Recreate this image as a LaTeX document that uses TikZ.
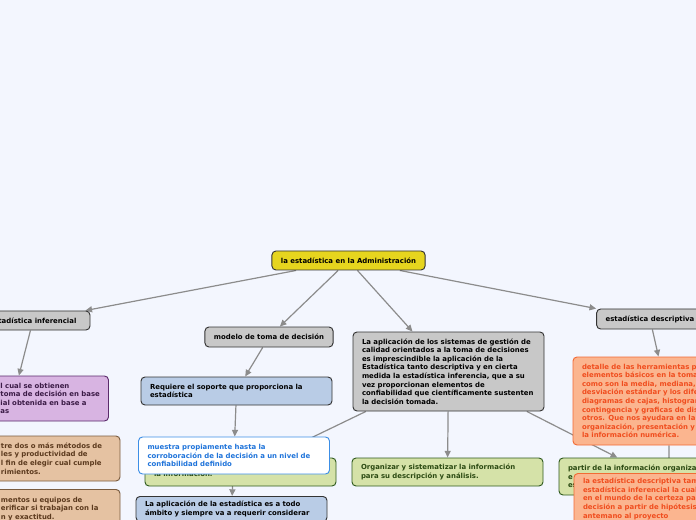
\documentclass[tikz,border=0pt]{standalone}
\usepackage{fontspec}
\setsansfont{DejaVu Sans}
\usetikzlibrary{arrows.meta}

\definecolor{paper}{HTML}{F3F6FE}
\definecolor{boxline}{HTML}{333333}
\definecolor{linkgray}{HTML}{8C8C8C}
\definecolor{rootfill}{HTML}{E6D51E}
\definecolor{grayfill}{HTML}{C8C8C8}
\definecolor{bluefill}{HTML}{B9CCE6}
\definecolor{greenfill}{HTML}{D5E2A8}
\definecolor{greenline}{HTML}{2F5A1E}
\definecolor{greentext}{HTML}{2B4A12}
\definecolor{purplefill}{HTML}{D8B4E2}
\definecolor{purpleline}{HTML}{5B2B6B}
\definecolor{purpletext}{HTML}{3B1B46}
\definecolor{tanfill}{HTML}{E5C2A2}
\definecolor{tanline}{HTML}{7A5C40}
\definecolor{tantext}{HTML}{5C3A1E}
\definecolor{orangefill}{HTML}{FBB58F}
\definecolor{orangeline}{HTML}{F26B35}
\definecolor{orangetext}{HTML}{F04D1E}
\definecolor{whiteline}{HTML}{3C8EE6}
\definecolor{whitetext}{HTML}{1E73DA}

\pgfdeclarelayer{paperlayer}
\pgfdeclarelayer{linklayer}
\pgfsetlayers{paperlayer,linklayer,main}

\begin{document}
\begin{tikzpicture}[
  x=0.75pt, y=-0.75pt,
  font=\sffamily\bfseries\fontsize{5.2}{6.45}\selectfont,
  box/.style={
    draw=boxline,
    fill=#1,
    rounded corners=3pt,
    line width=0.7pt,
    inner xsep=6.75pt,
    inner ysep=3.5pt
  },
  note/.style={
    box=#1,
    text width=129.75pt,
    align=left
  },
  link/.style={-{Triangle[length=5pt,width=4.5pt]}, line width=0.9pt, draw=linkgray}
]

\useasboundingbox (0,0) rectangle (696,520);
\begin{pgfonlayer}{paperlayer}
\fill[paper] (0,0) rectangle (696,520);
\end{pgfonlayer}

\node[box=rootfill, minimum width=113.25pt, minimum height=14.25pt] (root) at (348.5,260.5) {la estadística en la Administración};

\node[box=grayfill, minimum width=85.5pt, minimum height=14.25pt] (inferencial) at (33,320.5) {estadística inferencial};
\node[box=grayfill, minimum width=94.5pt, minimum height=15pt] (modelo) at (269,337) {modelo de toma de decisión};
\node[note=grayfill, minimum height=59.25pt] (sistemas) at (448.5,371.5) {La aplicación de los sistemas de gestión de\\calidad orientados a la toma de decisiones\\es imprescindible la aplicación de la\\Estadística tanto descriptiva y en cierta\\medida la estadística inferencia, que a su\\vez proporcionan elementos de\\confiabilidad que científicamente sustenten\\la decisión tomada.};
\node[box=grayfill, minimum width=78pt, minimum height=15pt] (descriptiva) at (650,319) {estadística descriptiva};

\node[note=purplefill, draw=purpleline, text=purpletext, minimum height=33.75pt] (obtienen) at (13,398.5) {\hspace*{55.5pt}\parbox[t]{120pt}{l cual se obtienen\\toma de decisión en base\\ial obtenida en base a\\as}};
\node[note=tanfill, draw=tanline, text=tantext, minimum height=33.75pt] (metodos) at (24.5,458.5) {\hspace*{47.25pt}\parbox[t]{120pt}{tre dos o más métodos de\\les y productividad de\\l fin de elegir cual cumple\\rimientos.}};
\node[note=tanfill, draw=tanline, text=tantext, anchor=north, inner ysep=5.5pt] (equipos) at (24.5,489) {\hspace*{47.25pt}\parbox[t]{120pt}{mentos u equipos de\\erificar si trabajan con la\\n y exactitud.}};

\node[note=bluefill, minimum height=21pt] (soporte) at (236.5,391) {Requiere el soporte que proporciona la\\estadística};
\node[note=greenfill, draw=greenline, text=greentext, minimum height=21pt] (informacion) at (240.5,472) {\mbox{}\\la información.};
\node[note=white, draw=whiteline, text=whitetext, minimum height=27.75pt] (muestra) at (234,455.5) {muestra propiamente hasta la\\corroboración de la decisión a un nivel de\\confiabilidad definido};
\node[note=bluefill, anchor=north] (ambito) at (231.5,496) {La aplicación de la estadística es a todo\\ámbito y siempre va a requerir considerar};

\node[note=greenfill, draw=greenline, text=greentext, minimum height=21pt] (organizar) at (447.5,472) {Organizar y sistematizar la información\\para su descripción y análisis.};
\node[note=greenfill, draw=greenline, text=greentext, minimum height=27.75pt] (organizada) at (654.5,476.5) {partir de la información organiza\\e\\es};

\node[note=orangefill, draw=orangeline, text=orangetext, minimum height=66pt] (herramientas) at (668.5,401) {detalle de las herramientas p\\elementos básicos en la toma\\como son la media, mediana,\\desviación estándar y los dife\\diagramas de cajas, histogram\\contingencia y graficas de dis\\otros. Que nos ayudara en la\\organización, presentación y\\la información numérica.};
\node[note=orangefill, draw=orangeline, text=orangetext, anchor=north] (certeza) at (669.5,473) {la estadística descriptiva tam\\estadística inferencial la cual\\en el mundo de la certeza par\\decisión a partir de hipótesis\\antemano al proyecto};

\begin{pgfonlayer}{linklayer}
\draw[link] (root) -- (inferencial);
\draw[link] (root) -- (modelo);
\draw[link] (root) -- (sistemas);
\draw[link] (root) -- (descriptiva);

\draw[link] (inferencial) -- (obtienen);
\draw[link] (modelo) -- (soporte);
\draw[link] (soporte) -- (muestra);
\draw[link] (muestra) -- (ambito);

\draw[link] (sistemas) -- (informacion);
\draw[link] (sistemas) -- (organizar);
\draw[link] (sistemas) -- (organizada);

\draw[link] (descriptiva) -- (herramientas);
\draw[link] (herramientas) -- (certeza);
\end{pgfonlayer}

\end{tikzpicture}
\end{document}
